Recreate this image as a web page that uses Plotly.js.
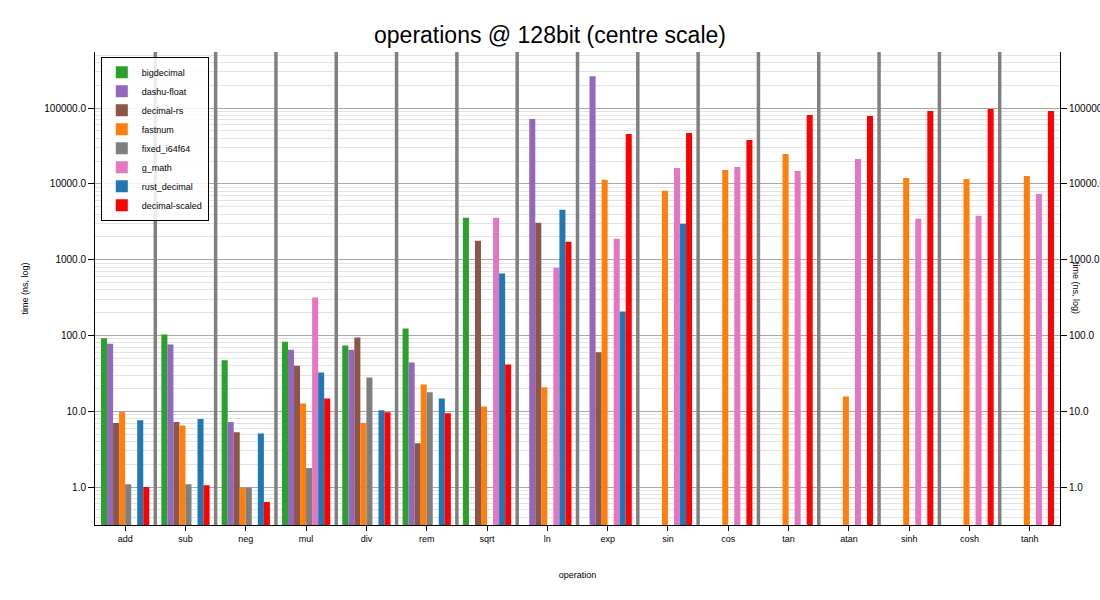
<!DOCTYPE html>
<html>
<head>
<meta charset="utf-8">
<script src="https://cdn.plot.ly/plotly-3.0.1.min.js"></script>
<style>
  body { margin: 0; background: #fff; }
  #chart { width: 1100px; height: 600px; }
</style>
</head>
<body>
<div id="chart"></div>
<script>
// operations on the x axis
var operations = ['add', 'sub', 'neg', 'mul', 'div', 'rem', 'sqrt', 'ln', 'exp', 'sin', 'cos', 'tan', 'atan', 'sinh', 'cosh', 'tanh']

// time in ns per operation, null where the crate has no such op
var bigdecimal     = [92, 103, 47, 83, 74, 124, 3570, null, null, null, null, null, null, null, null, null]
var dashu_float    = [78, 76, 7.2, 65, 65, 44, null, 71600, 263000, null, null, null, null, null, null, null]
var decimal_rs     = [7.0, 7.2, 5.3, 40, 94, 3.8, 1780, 3070, 60, null, null, null, null, null, null, null]
var fastnum        = [9.8, 6.5, 0.99, 12.7, 7.0, 22.6, 11.6, 20.7, 11300, 8090, 15300, 24800, 15.7, 12000, 11600, 12700]
var fixed_i64f64   = [1.09, 1.09, 0.99, 1.78, 28, 17.8, null, null, null, null, null, null, null, null, null, null]
var g_math         = [null, null, null, 316, null, null, 3570, 785, 1890, 16200, 16700, 14800, 21300, 3470, 3800, 7380]
var rust_decimal   = [7.6, 7.9, 5.1, 32.6, 10.3, 14.8, 655, 4550, 207, 2980, null, null, null, null, null, null]
var decimal_scaled = [1.0, 1.06, 0.635, 14.8, 9.7, 9.4, 41.5, 1725, 45500, 46800, 37900, 81000, 78600, 91300, 97000, 91300]

var series_names = ['bigdecimal', 'dashu-float', 'decimal-rs', 'fastnum', 'fixed_i64f64', 'g_math', 'rust_decimal', 'decimal-scaled']
var series_values = [bigdecimal, dashu_float, decimal_rs, fastnum, fixed_i64f64, g_math, rust_decimal, decimal_scaled]
var series_colors = ['#2ca02c', '#9467bd', '#8c564b', '#ff7f0e', '#7f7f7f', '#e377c2', '#1f77b4', '#ff0000']

var tick_vals = [1, 10, 100, 1000, 10000, 100000]
var tick_text = ['1.0', '10.0', '100.0', '1000.0', '10000.0', '100000.0']

var font_family = 'Liberation Sans, Arial, sans-serif'
var bar_w = 0.1

var traces = []
for (var i = 0; i < series_names.length; i++) {
  traces.push({
    type: 'bar',
    name: series_names[i],
    x: operations,
    y: series_values[i],
    width: bar_w,
    offset: -0.4 + i * bar_w,
    marker: {color: series_colors[i], line: {width: 0}},
    // last series sits on the mirrored right axis so that axis gets drawn
    yaxis: i == series_names.length - 1 ? 'y2' : 'y',
    hoverinfo: 'x+y+name'
  })
}

// grey separators between the operation groups
var shapes = []
for (var j = 0; j < operations.length - 1; j++) {
  shapes.push({
    type: 'line', xref: 'x', yref: 'paper',
    x0: j + 0.5, x1: j + 0.5, y0: 0, y1: 1,
    line: {color: '#808080', width: 3.5},
    layer: 'above'
  })
}

var yrange = [-0.5, 5.74]

var layout = {
  width: 1100,
  height: 600,
  margin: {l: 95, r: 40, t: 52, b: 75, pad: 0},
  paper_bgcolor: '#ffffff',
  plot_bgcolor: '#ffffff',
  font: {family: font_family, size: 10, color: '#000'},
  title: {
    text: 'operations @ 128bit (centre scale)',
    font: {family: font_family, size: 23, color: '#000'},
    xref: 'container', x: 0.5, xanchor: 'center',
    yref: 'container', y: 0.942, yanchor: 'middle'
  },
  barmode: 'overlay',
  showlegend: true,
  legend: {
    x: 0.006, y: 0.99, xanchor: 'left', yanchor: 'top',
    bgcolor: 'rgba(255,255,255,0.85)',
    bordercolor: '#000', borderwidth: 1,
    font: {family: font_family, size: 9, color: '#000'},
    tracegroupgap: 0
  },
  xaxis: {
    type: 'category',
    range: [-0.5, 15.5],
    showgrid: false,
    zeroline: false,
    showline: true, linecolor: '#000', linewidth: 1,
    ticks: 'outside', ticklen: 5, tickcolor: '#000',
    tickfont: {family: font_family, size: 9},
    title: {text: 'operation', font: {family: font_family, size: 9}, standoff: 28}
  },
  yaxis: {
    type: 'log',
    range: yrange,
    tickvals: tick_vals,
    ticktext: tick_text,
    showgrid: true, gridcolor: '#a8a8a8', gridwidth: 1,
    minor: {dtick: 'D1', showgrid: true, gridcolor: '#e3e3e3', gridwidth: 1, ticks: ''},
    zeroline: false,
    showline: true, linecolor: '#000', linewidth: 1,
    ticks: 'outside', ticklen: 6, tickcolor: '#000',
    tickfont: {family: font_family, size: 10},
    title: {text: 'time (ns, log)', font: {family: font_family, size: 9}, standoff: 14}
  },
  yaxis2: {
    type: 'log',
    overlaying: 'y',
    side: 'right',
    range: yrange,
    tickvals: tick_vals,
    ticktext: tick_text,
    showgrid: false,
    zeroline: false,
    showline: true, linecolor: '#000', linewidth: 1,
    ticks: 'outside', ticklen: 6, tickcolor: '#000',
    tickfont: {family: font_family, size: 10}
  },
  annotations: [{
    text: 'time (ns, log)',
    xref: 'paper', yref: 'paper',
    x: 1.017, y: 0.5, xanchor: 'center', yanchor: 'middle',
    textangle: 90, showarrow: false,
    font: {family: font_family, size: 9, color: '#000'}
  }],
  shapes: shapes
}

Plotly.newPlot('chart', traces, layout, {displayModeBar: false, staticPlot: true})
</script>
</body>
</html>
